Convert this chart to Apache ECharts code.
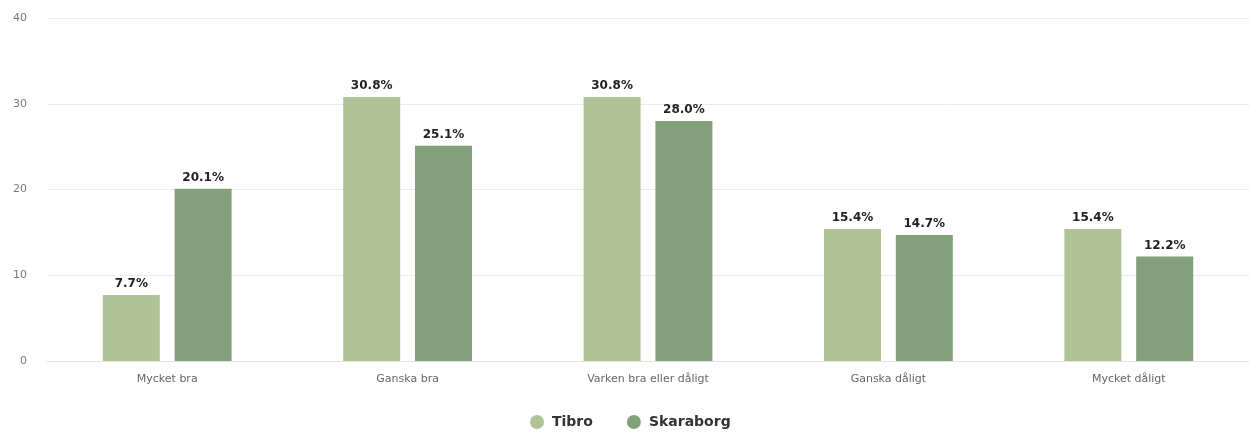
<!DOCTYPE html>
<html><head><meta charset="utf-8">
<script src="https://cdn.jsdelivr.net/npm/echarts@6/dist/echarts.min.js"></script>
<style>html,body{margin:0;padding:0;background:#fff}#c{width:1249px;height:435px}</style>
</head><body><div id="c"></div>
<script>
const categories = ['Mycket bra', 'Ganska bra', 'Varken bra eller dåligt', 'Ganska dåligt', 'Mycket dåligt'];
const tibro = [7.7, 30.8, 30.8, 15.4, 15.4];
const skaraborg = [20.1, 25.1, 28.0, 14.7, 12.2];
const yTicks = [0, 10, 20, 30, 40];

const chart = echarts.init(document.getElementById('c'));
const lbl = {show: true, position: 'top', distance: 5, fontFamily: 'DejaVu Sans', fontWeight: 'bold', fontSize: 12, color: '#222', formatter: p => p.value.toFixed(1) + '%'};
chart.setOption({
  animation: false,
  textStyle: {fontFamily: 'DejaVu Sans'},
  grid: {left: 47, width: 1205, top: 18, bottom: 74, containLabel: false},
  legend: {top: 410, left: 525, icon: 'circle', itemWidth: 14, itemHeight: 14, itemGap: 34,
    textStyle: {fontFamily: 'DejaVu Sans', fontWeight: 'bold', fontSize: 14, color: '#333', padding: [0, 0, 0, 3]}},
  xAxis: {type: 'category', data: categories,
    axisLine: {lineStyle: {color: '#e3e3e3'}}, axisTick: {show: false},
    axisLabel: {color: '#666', fontSize: 11, margin: 13}},
  yAxis: {type: 'value', min: yTicks[0], max: yTicks[yTicks.length - 1], interval: 10,
    axisLabel: {color: '#777', fontSize: 11, margin: 20},
    splitLine: {lineStyle: {color: '#ebebeb'}}},
  series: [
    {name: 'Tibro', type: 'bar', data: tibro, barWidth: 57, barGap: '26%', itemStyle: {color: '#afc396'}, label: lbl},
    {name: 'Skaraborg', type: 'bar', data: skaraborg, barWidth: 57, itemStyle: {color: '#82a17a'}, label: lbl}
  ]
});
</script></body></html>
